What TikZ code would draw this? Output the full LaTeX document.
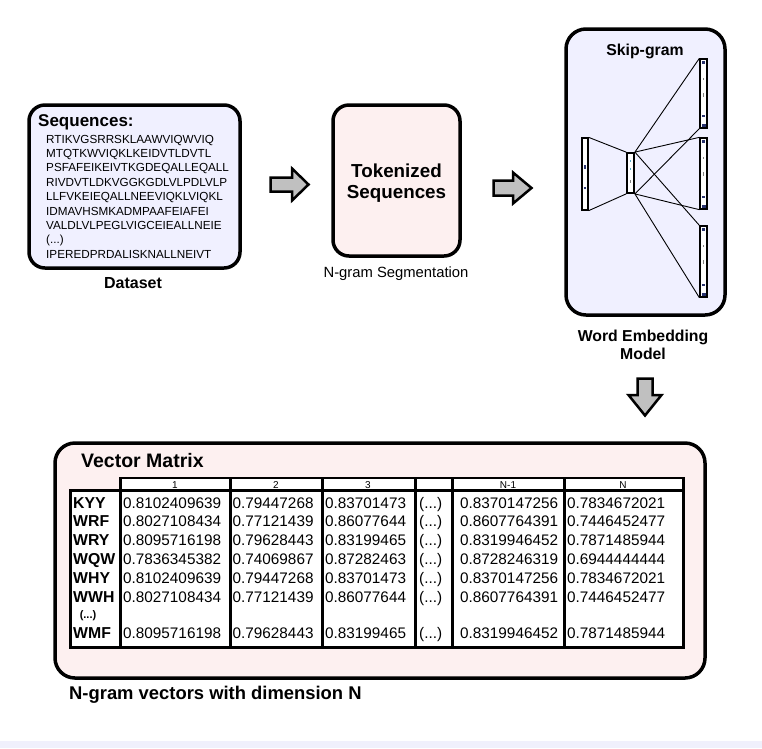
\documentclass[tikz,border=0pt]{standalone}
\usepackage{fontspec}
\setmainfont{Liberation Sans}
\definecolor{lav}{RGB}{240,240,255}
\definecolor{pinkbg}{RGB}{253,240,240}
\definecolor{arrowgray}{RGB}{192,192,192}
\definecolor{bandcol}{RGB}{240,240,252}
\definecolor{markblue}{RGB}{40,50,110}
\newcommand{\fsz}[1]{\fontsize{#1}{#1}\selectfont}
\newcommand{\parendots}{(...)}
\begin{document}
\begin{tikzpicture}[x=1pt,y=-1pt,
  box/.style={draw=black,line width=3.5pt,rounded corners=16pt,inner sep=0pt},
  fatarrow/.style={draw=black,line width=2.5pt,fill=arrowgray,line join=miter},
  layer/.style={draw=black,line width=1.3pt,fill=white,inner sep=0pt},
  nn/.style={line width=0.9pt},
  boldlbl/.style={inner sep=0pt,font=\fsz{15.5}\bfseries},
  seqtxt/.style={inner sep=0pt,anchor=base west,font=\fsz{11.7}},
  numtxt/.style={inner sep=0pt,anchor=base west,font=\fsz{15.3}},
  rowlbl/.style={inner sep=0pt,anchor=base west,font=\fsz{15.8}\bfseries},
  hdrtxt/.style={inner sep=0pt,anchor=base,font=\fsz{10}},
  thickgrid/.style={line width=3pt,line cap=rect},
  thingrid/.style={line width=1.6pt,line cap=rect}
]
\useasboundingbox (0,0) rectangle (762,748);
\fill[bandcol] (0,741) rectangle (762,748);

% ---------- Dataset ----------
\node[box,fill=lav,minimum width=211pt,minimum height=163pt] (dataset) at (134.5,186.5) {};
\node[inner sep=0pt,anchor=base west,font=\fsz{17}\bfseries] (seqtitle) at (38,126) {Sequences:};
\foreach \s [count=\i] in {RTIKVGSRRSKLAAWVIQWVIQ,MTQTKWVIQKLKEIDVTLDVTL,PSFAFEIKEIVTKGDEQALLEQALL,RIVDVTLDKVGGKGDLVLPDLVLP,LLFVKEIEQALLNEEVIQKLVIQKL,IDMAVHSMKADMPAAFEIAFEI,VALDLVLPEGLVIGCEIEALLNEIE,\parendots,IPEREDPRDALISKNALLNEIVT}
  \node[seqtxt] (seq\i) at (46,{143+(\i-1)*14.4}) {\s};
\node[boldlbl,font=\fsz{16}\bfseries] (datasetlbl) at (133,283) {Dataset};

% ---------- arrow 1 ----------
\draw[fatarrow] (270.5,177.5) -- (292,177.5) -- (292,168.5) -- (308.5,184.5) -- (292,200.5) -- (292,191.5) -- (270.5,191.5) -- cycle;

% ---------- Tokenized ----------
\node[box,fill=pinkbg,minimum width=127pt,minimum height=151pt] (tok) at (396.5,180.5) {};
\node[inner sep=0pt,anchor=base,font=\fsz{18.8}\bfseries] (tok1) at (396.5,177.5) {Tokenized};
\node[inner sep=0pt,anchor=base,font=\fsz{18.8}\bfseries] (tok2) at (396.5,198.5) {Sequences};
\node[inner sep=0pt,anchor=base,font=\fsz{14.8}] (ngramseg) at (396,277) {N-gram Segmentation};

% ---------- arrow 2 ----------
\draw[fatarrow] (493.5,180.5) -- (513,180.5) -- (513,172.5) -- (531.5,188) -- (513,203.5) -- (513,195.5) -- (493.5,195.5) -- cycle;

% ---------- Skip-gram ----------
\node[box,fill=lav,minimum width=159pt,minimum height=286pt,rounded corners=20pt] (skip) at (645.5,172) {};
\node[inner sep=0pt,anchor=base,font=\fsz{15.8}\bfseries] (skiptitle) at (645,55) {Skip-gram};

\node[layer,minimum width=6pt,minimum height=72pt] (inl) at (585,174) {};
\node[layer,line width=1.8pt,minimum width=7pt,minimum height=40pt] (hid) at (630.5,173) {};
\node[layer,minimum width=7pt,minimum height=69pt] (o1) at (703.5,93.5) {};
\node[layer,minimum width=7pt,minimum height=71pt] (o2) at (703.5,173.5) {};
\node[layer,minimum width=7pt,minimum height=71pt] (o3) at (703.5,261.5) {};

\draw[nn] (inl.north east) -- (hid.north west);
\draw[nn] (inl.south east) -- (hid.south west);
\foreach \o in {o1,o2,o3} {
  \draw[nn] (hid.north east) -- (\o.north west);
  \draw[nn] (hid.south east) -- (\o.south west);
}
% small marks inside the layers
\foreach \o in {o1,o2,o3} {
  \fill[markblue] ([xshift=-2pt,yshift=2pt]\o.south) rectangle ([xshift=2pt,yshift=5pt]\o.south);
  \fill[markblue] ([xshift=-1.5pt,yshift=-3pt]\o.north) rectangle ([xshift=1pt,yshift=-6pt]\o.north);
  \fill[gray] ([xshift=-0.5pt,yshift=-20pt]\o.north) rectangle ([xshift=0.5pt,yshift=-22pt]\o.north);
  \fill[gray] ([xshift=-0.5pt,yshift=-35pt]\o.north) rectangle ([xshift=0.5pt,yshift=-39pt]\o.north);
  \fill[markblue] ([xshift=-1.5pt,yshift=12pt]\o.south) rectangle ([xshift=1.5pt,yshift=14pt]\o.south);
}
\foreach \k in {6,12,20,28,36,46,58,62,66} {
  \draw[line width=0.5pt] ([yshift=-\k pt]inl.north west) -- ++(2pt,0);
}
\fill[markblue] ([xshift=-1.5pt,yshift=-28pt]inl.north) rectangle ([xshift=1pt,yshift=-32pt]inl.north);
\fill[markblue] ([xshift=-1.5pt,yshift=-50pt]inl.north) rectangle ([xshift=1pt,yshift=-52pt]inl.north);
\fill[cyan!60!gray] ([xshift=-0.5pt,yshift=-8pt]hid.north) rectangle ([xshift=0.5pt,yshift=-10pt]hid.north);
\fill[cyan!60!gray] ([xshift=-0.5pt,yshift=-16pt]hid.north) rectangle ([xshift=0.5pt,yshift=-18pt]hid.north);
\fill[gray] ([xshift=-0.5pt,yshift=-28pt]hid.north) rectangle ([xshift=0.5pt,yshift=-31pt]hid.north);

\node[inner sep=0pt,anchor=base,font=\fsz{15.8}\bfseries] (wem1) at (643,341) {Word Embedding};
\node[inner sep=0pt,anchor=base,font=\fsz{15.8}\bfseries] (wem2) at (643,359) {Model};

% ---------- down arrow ----------
\draw[fatarrow] (637.5,378.5) -- (652.5,378.5) -- (652.5,395) -- (661.5,395) -- (645,415.5) -- (628.5,395) -- (637.5,395) -- cycle;

% ---------- Vector Matrix ----------
\node[box,fill=pinkbg,minimum width=650pt,minimum height=235pt,rounded corners=20pt] (vm) at (380,560.5) {};
\node[inner sep=0pt,anchor=base west,font=\fsz{19.5}\bfseries] (vmtitle) at (81,467) {Vector Matrix};

% table
\fill[white] (120,478) rectangle (683,490);
\fill[white] (70,490) rectangle (683,647);
\draw[thingrid] (120,478) -- (683,478);
\draw[thickgrid] (70,490) -- (683,490);
\draw[thickgrid] (70,490) -- (70,647) -- (683,647) -- (683,478);
\foreach \x in {120,230,322,415,452,564}
  \draw[thickgrid] (\x,478) -- (\x,647);

\node[hdrtxt] (h1) at (175,488) {1};
\node[hdrtxt] (h2) at (276,488) {2};
\node[hdrtxt] (h3) at (368,488) {3};
\node[hdrtxt] (h4) at (508,488) {N-1};
\node[hdrtxt] (h5) at (623,488) {N};

\foreach \lab/\a/\b/\c/\d/\e [count=\i] in {
  KYY/0.8102409639/0.79447268/0.83701473/0.8370147256/0.7834672021,
  WRF/0.8027108434/0.77121439/0.86077644/0.8607764391/0.7446452477,
  WRY/0.8095716198/0.79628443/0.83199465/0.8319946452/0.7871485944,
  WQW/0.7836345382/0.74069867/0.87282463/0.8728246319/0.6944444444,
  WHY/0.8102409639/0.79447268/0.83701473/0.8370147256/0.7834672021,
  WWH/0.8027108434/0.77121439/0.86077644/0.8607764391/0.7446452477,
  WMF/0.8095716198/0.79628443/0.83199465/0.8319946452/0.7871485944} {
  \pgfmathsetmacro{\yy}{\i<7 ? 508+(\i-1)*18.8 : 638.5}
  \node[rowlbl] (r\i l) at (73,\yy) {\lab};
  \node[numtxt] (r\i a) at (123,\yy) {\a};
  \node[numtxt] (r\i b) at (232.5,\yy) {\b};
  \node[numtxt] (r\i c) at (325,\yy) {\c};
  \node[numtxt] (r\i d) at (419,\yy) {\parendots};
  \node[numtxt] (r\i e) at (460,\yy) {\d};
  \node[numtxt] (r\i f) at (567,\yy) {\e};
}
\node[inner sep=0pt,anchor=base,font=\fsz{11}\bfseries] (rdots) at (88,618) {\parendots};

\node[inner sep=0pt,anchor=base west,font=\fsz{18.4}\bfseries] (caption) at (69,699) {N-gram vectors with dimension N};
\end{tikzpicture}
\end{document}
